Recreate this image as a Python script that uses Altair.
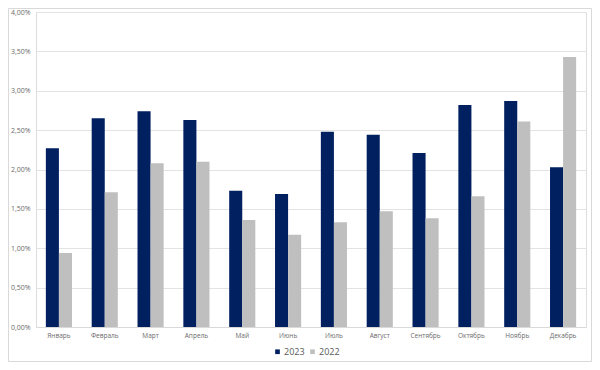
import altair as alt
import pandas as pd

months = ["Январь", "Февраль", "Март", "Апрель", "Май", "Июнь", "Июль",
          "Август", "Сентябрь", "Октябрь", "Ноябрь", "Декабрь"]
v2023 = [0.0227, 0.0265, 0.0274, 0.0263, 0.0173, 0.0169, 0.0248, 0.0244, 0.0221, 0.0282, 0.0287, 0.0203]
v2022 = [0.0094, 0.0171, 0.0208, 0.0210, 0.0136, 0.0117, 0.0133, 0.0147, 0.0138, 0.0166, 0.0261, 0.0343]
series = ["2023", "2022"]
colors = ["#002060", "#BFBFBF"]

rows = []
for m, a, b in zip(months, v2023, v2022):
    rows.append({"month": m, "year": "2023", "value": a})
    rows.append({"month": m, "year": "2022", "value": b})
df = pd.DataFrame(rows)

W, H = 550, 315
FONT = "Open Sans"

border = alt.Chart(pd.DataFrame({"a": [0]})).mark_rect(
    fill=None, stroke="#D9D9D9", strokeWidth=1
).encode(
    x=alt.value(-27.5), x2=alt.value(555.5), y=alt.value(-3.5), y2=alt.value(349.5)
)

bars = alt.Chart(df).mark_bar().encode(
    x=alt.X("month:N", sort=months, title=None,
            scale=alt.Scale(paddingInner=0.43, paddingOuter=0.215),
            axis=alt.Axis(labelAngle=0, labelFontSize=6.5, labelColor="#6B6B6B",
                          labelFont=FONT, ticks=False, domain=True, domainColor="#D9D9D9",
                          labelPadding=5)),
    xOffset=alt.XOffset("year:N", sort=series),
    y=alt.Y("value:Q", title=None,
            scale=alt.Scale(domain=[0, 0.04], nice=False),
            axis=alt.Axis(values=[0, 0.005, 0.01, 0.015, 0.02, 0.025, 0.03, 0.035, 0.04],
                          labelExpr="replace(format(datum.value, '.2%'), '.', ',')",
                          labelFontSize=7, labelColor="#6B6B6B", labelFont=FONT,
                          ticks=False, domain=False, gridColor="#E3E3E3",
                          labelPadding=6)),
    color=alt.Color("year:N", sort=series,
                    scale=alt.Scale(domain=series, range=colors),
                    legend=alt.Legend(title=None, orient="none", direction="horizontal",
                                      legendX=237, legendY=335, symbolType="square",
                                      symbolSize=22, labelFontSize=9, labelColor="#595959",
                                      labelFont=FONT, columnPadding=3, labelOffset=2,
                                      symbolStrokeWidth=0)),
)

chart = alt.layer(border, bars).properties(
    width=W, height=H,
    autosize=alt.AutoSizeParams(type="none"),
    padding={"left": 28, "top": 4, "right": 6, "bottom": 35},
).configure_view(stroke=None).configure(background="white")

chart.save("out.html", embed_options={"renderer": "svg", "actions": False})
